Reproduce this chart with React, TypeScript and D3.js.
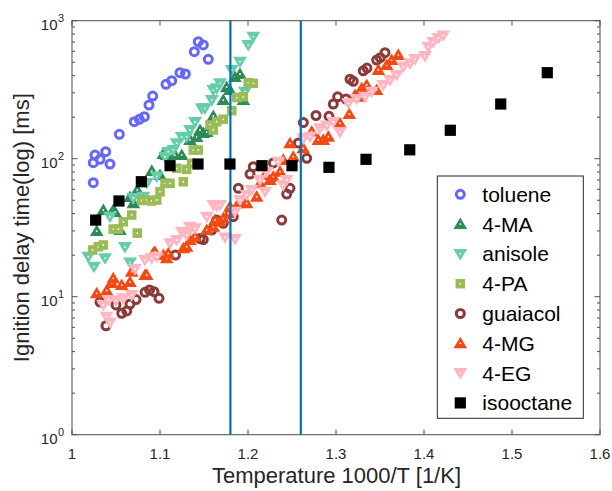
import React from "react";
import * as d3 from "d3";

// ---- data: [1000/T (1/K), ignition delay (ms)] ----
const toluene: [number, number][] = [
  [1.0242, 67.0], [1.0242, 93.5], [1.0261, 106.3], [1.0318, 99], [1.0383, 112.4],
  [1.0432, 91.5], [1.0538, 150.3], [1.0708, 185.4], [1.0765, 193], [1.0822, 201.5],
  [1.0875, 245], [1.0917, 284.6], [1.1068, 346], [1.1133, 367.5], [1.1227, 420],
  [1.1288, 411], [1.139, 596], [1.1435, 704], [1.1492, 667], [1.1549, 525],
];
const ma4: [number, number][] = [
  [1.0281, 29.9], [1.0356, 42.5], [1.0469, 42.5], [1.0489, 41.1], [1.0545, 30.4],
  [1.0659, 52.7], [1.0697, 47.6], [1.0742, 59.3], [1.0906, 81.5], [1.1, 76.2],
  [1.1038, 108], [1.1076, 106.3], [1.117, 106.3], [1.1247, 106.3], [1.1341, 136.7],
  [1.1417, 143.6], [1.1455, 161.4], [1.1492, 153.5], [1.1531, 156], [1.1606, 203.9],
  [1.1719, 266], [1.1758, 330], [1.1795, 314], [1.1852, 391], [1.1909, 411], [1.1947, 266],
];
const anisole: [number, number][] = [
  [1.0185, 19.5], [1.025, 16.5], [1.0375, 19.0], [1.0432, 38.0], [1.0602, 22.9],
  [1.0659, 17.7], [1.0697, 51.9], [1.081, 53.1], [1.0849, 66.7], [1.0963, 74.3],
  [1.1057, 103.3], [1.1094, 112.4], [1.1151, 115.6], [1.119, 129.4], [1.1247, 143.6],
  [1.1303, 144.3], [1.1341, 161.4], [1.1398, 184.5], [1.1474, 231.7], [1.1511, 231.7],
  [1.1588, 266], [1.1606, 314], [1.1644, 323.6], [1.1682, 351.6], [1.1815, 439.6],
  [1.1909, 504.7], [1.1966, 305.5], [1.2003, 666.8], [1.206, 765.6],
];
const pa4: [number, number][] = [
  [1.0235, 21.8], [1.0299, 23.0], [1.0356, 23.7], [1.0469, 30.9], [1.0526, 30.9],
  [1.0583, 34.9], [1.0678, 39.1], [1.0742, 28.9], [1.0792, 49.8], [1.0849, 50.2],
  [1.0906, 49.4], [1.0963, 50.2], [1.1, 57.6], [1.1057, 66.3], [1.1114, 66.3],
  [1.119, 85.2], [1.1265, 68.1], [1.1303, 83.7], [1.136, 92.6], [1.1378, 115.6],
  [1.1435, 115.6], [1.1568, 175.5], [1.1606, 161.4], [1.1644, 185.4], [1.1719, 193],
  [1.1815, 222.8], [1.1872, 277.4], [1.1947, 281.4], [1.2003, 355.6], [1.206, 351.6],
];
const guaiacol: [number, number][] = [
  [1.0318, 9.15], [1.0386, 6.16], [1.05, 8.71], [1.0565, 7.58], [1.0622, 7.88],
  [1.0659, 8.85], [1.0727, 9.54], [1.083, 10.76], [1.0881, 11.19], [1.0932, 10.87],
  [1.0989, 9.73], [1.1176, 20.05], [1.1455, 26.4], [1.1492, 25.96], [1.1588, 30.4],
  [1.1644, 35.9], [1.1719, 34.0], [1.1833, 38.0], [1.189, 61.0], [1.2023, 77.4],
  [1.206, 87.5], [1.2288, 93.1], [1.2383, 35.9], [1.244, 55.5], [1.2477, 61.0],
  [1.2572, 130], [1.2629, 182.8], [1.2667, 100.7], [1.2773, 205.6], [1.292, 202.8],
  [1.2969, 249], [1.3019, 281], [1.3114, 270.8], [1.3159, 376.6], [1.3197, 363.9],
  [1.331, 433.5], [1.3352, 453.9], [1.3462, 518.8], [1.3503, 539.6], [1.3557, 586.3],
];
const mg4: [number, number][] = [
  [1.0281, 10.58], [1.0394, 11.09], [1.0451, 12.56], [1.0469, 13.59], [1.0565, 12.16],
  [1.0659, 12.78], [1.0678, 15.18], [1.083, 14.36], [1.0849, 14.36], [1.0924, 20.7],
  [1.0943, 21.1], [1.1038, 20.05], [1.1076, 18.97], [1.1094, 20.6], [1.1265, 22.4],
  [1.1303, 23.0], [1.1341, 25.76], [1.1398, 27.2], [1.1531, 30.4], [1.1606, 32.1],
  [1.1625, 35.9], [1.1682, 34.9], [1.1719, 37.0], [1.1776, 40.2], [1.1795, 44.9],
  [1.189, 47.5], [1.1947, 50.2], [1.1985, 47.5], [1.2099, 53.1], [1.2136, 66.3],
  [1.2193, 76.2], [1.225, 70.1], [1.2288, 74.1], [1.2364, 80.5], [1.2401, 97.9],
  [1.2477, 129.4], [1.2515, 103.3], [1.2628, 118.9], [1.2724, 157.4], [1.2799, 136.7],
  [1.2856, 136.7], [1.2913, 144.3], [1.3045, 180.6], [1.3151, 210.9], [1.3216, 289.5],
  [1.3273, 281.4], [1.3292, 323.6], [1.3349, 342], [1.3462, 314], [1.3481, 439.6],
  [1.3576, 477.6], [1.3633, 518.8], [1.3708, 564.5],
];
const eg4: [number, number][] = [
  [1.0356, 8.71], [1.0394, 7.16], [1.0413, 9.46], [1.0432, 6.5], [1.05, 9.38],
  [1.0583, 9.73], [1.0678, 10.28], [1.0716, 15.88], [1.083, 18.45], [1.0906, 18.97],
  [1.0963, 19.5], [1.1114, 24.4], [1.119, 25.76], [1.1247, 29.6], [1.1303, 28.0],
  [1.1341, 32.1], [1.1398, 31.3], [1.1531, 38.0], [1.1606, 46.2], [1.1644, 45.4],
  [1.1682, 46.2], [1.1739, 26.85], [1.1852, 26.2], [1.1852, 41.3], [1.1909, 50.2],
  [1.1985, 54.6], [1.2042, 59.3], [1.2136, 70.1], [1.2193, 57.6], [1.2213, 80.5],
  [1.2344, 95.1], [1.2401, 64.4], [1.244, 70.1], [1.2628, 140.6], [1.2705, 144.3],
  [1.2818, 166], [1.2894, 174.1], [1.2969, 184.5], [1.3045, 156], [1.314, 252],
  [1.3235, 270.8], [1.333, 281.4], [1.3406, 306], [1.3538, 342], [1.3614, 371.5],
  [1.369, 404.5], [1.3765, 464], [1.3841, 491], [1.3898, 527], [1.4011, 554.6],
  [1.4049, 648.6], [1.4106, 701], [1.4163, 749.6], [1.4219, 781.7],
];
const isooctane: [number, number][] = [
  [1.0269, 35.9], [1.0534, 49.4], [1.0788, 68.1], [1.1114, 89], [1.1432, 91.5],
  [1.1795, 91.5], [1.2159, 89], [1.25, 89], [1.292, 86.6], [1.3341, 99],
  [1.3838, 116], [1.4299, 160.7], [1.4872, 249], [1.5401, 420],
];
const vLines = [1.18, 1.26];
const xTicks = [1, 1.1, 1.2, 1.3, 1.4, 1.5, 1.6];
const yTickExps = [0, 1, 2, 3];

type Shape = "circle" | "up" | "down" | "square" | "bigsquare";
const series: { name: string; data: [number, number][]; shape: Shape; color: string }[] = [
  { name: "toluene", data: toluene, shape: "circle", color: "#6666ff" },
  { name: "4-MA", data: ma4, shape: "up", color: "#2e8b57" },
  { name: "anisole", data: anisole, shape: "down", color: "#66cdaa" },
  { name: "4-PA", data: pa4, shape: "square", color: "#9bbb59" },
  { name: "guaiacol", data: guaiacol, shape: "circle", color: "#8b3a3a" },
  { name: "4-MG", data: mg4, shape: "up", color: "#f24a12" },
  { name: "4-EG", data: eg4, shape: "down", color: "#ffb6c1" },
  { name: "isooctane", data: isooctane, shape: "bigsquare", color: "#000000" },
];

const X0 = 72, X1 = 600, Y0 = 434.7, Y1 = 20.7;
const x = d3.scaleLinear().domain([1, 1.6]).range([X0, X1]);
const y = d3.scaleLog().domain([1, 1000]).range([Y0, Y1]);

const FONT = "'Liberation Sans', Arial, Helvetica, sans-serif";

function Marker({ shape, color, cx, cy }: { shape: Shape; color: string; cx: number; cy: number }) {
  const dot = <circle cx={cx} cy={cy} r={0.9} fill="#fff" />;
  if (shape === "circle")
    return <circle cx={cx} cy={cy} r={4} fill="none" stroke={color} strokeWidth={3} />;
  if (shape === "up")
    return (
      <g>
        <path d={`M${cx},${cy - 6.6}L${cx + 6.8},${cy + 5}L${cx - 6.8},${cy + 5}Z`} fill={color} />
        {dot}
      </g>
    );
  if (shape === "down")
    return (
      <g>
        <path d={`M${cx},${cy + 6.6}L${cx + 7},${cy - 5}L${cx - 7},${cy - 5}Z`} fill={color} />
        {dot}
      </g>
    );
  if (shape === "square")
    return (
      <g>
        <rect x={cx - 4.8} y={cy - 4.8} width={9.6} height={9.6} fill={color} />
        {dot}
      </g>
    );
  return <rect x={cx - 5.6} y={cy - 5.6} width={11.2} height={11.2} fill={color} />;
}

export default function App() {
  const minor: number[] = [];
  for (let e = 0; e < 3; e++) for (let m = 2; m <= 9; m++) minor.push(m * Math.pow(10, e));
  const axisColor = "#4d4d4d";
  return (
    <svg width={612} height={491} style={{ position: "absolute", left: 0, top: 0, background: "#fff" }} fontFamily={FONT}>
      <rect x={0} y={0} width={612} height={491} fill="#fff" />
      {series.slice(0, 7).map((s) => (
        <g key={s.name}>
          {s.data.map((d, i) => (
            <Marker key={i} shape={s.shape} color={s.color} cx={x(d[0])} cy={y(d[1])} />
          ))}
        </g>
      ))}
      {vLines.map((v) => (
        <line key={v} x1={x(v)} x2={x(v)} y1={Y1} y2={Y0} stroke="#0072bd" strokeWidth={2.2} />
      ))}
      {series.slice(7).map((s) => (
        <g key={s.name}>
          {s.data.map((d, i) => (
            <Marker key={i} shape={s.shape} color={s.color} cx={x(d[0])} cy={y(d[1])} />
          ))}
        </g>
      ))}
      <rect x={X0} y={Y1} width={X1 - X0} height={Y0 - Y1} fill="none" stroke={axisColor} strokeWidth={1} />
      {xTicks.map((t) => (
        <g key={t}>
          <line x1={x(t)} x2={x(t)} y1={Y0} y2={Y0 - 5} stroke={axisColor} />
          <line x1={x(t)} x2={x(t)} y1={Y1} y2={Y1 + 5} stroke={axisColor} />
          <text x={x(t)} y={459} textAnchor="middle" fontSize={15} fill="#262626">
            {String(t)}
          </text>
        </g>
      ))}
      {yTickExps.map((e) => (
        <g key={e}>
          <line x1={X0} x2={X0 + 5.5} y1={y(Math.pow(10, e))} y2={y(Math.pow(10, e))} stroke={axisColor} />
          <line x1={X1} x2={X1 - 5.5} y1={y(Math.pow(10, e))} y2={y(Math.pow(10, e))} stroke={axisColor} />
          <text x={57.5} y={y(Math.pow(10, e)) + 9} textAnchor="end" fontSize={15} fill="#262626">
            10
          </text>
          <text x={58} y={y(Math.pow(10, e)) + 1} textAnchor="start" fontSize={11} fill="#262626">
            {e}
          </text>
        </g>
      ))}
      {minor.map((m) => (
        <g key={m}>
          <line x1={X0} x2={X0 + 3} y1={y(m)} y2={y(m)} stroke={axisColor} />
          <line x1={X1} x2={X1 - 3} y1={y(m)} y2={y(m)} stroke={axisColor} />
        </g>
      ))}
      <text x={336.5} y={483} textAnchor="middle" fontSize={22} fill="#262626">
        Temperature 1000/T [1/K]
      </text>
      <text transform={`translate(29,${(Y0 + Y1) / 2}) rotate(-90)`} textAnchor="middle" fontSize={22} fill="#262626">
        Ignition delay time(log) [ms]
      </text>
      <rect x={437.3} y={176} width={146} height={242.3} fill="#fff" stroke="#262626" strokeWidth={1} />
      {series.map((s, i) => {
        const cy = 194.3 + i * 29.8;
        return (
          <g key={s.name}>
            <Marker shape={s.shape} color={s.color} cx={460.3} cy={cy} />
            <text x={482.3} y={cy + 7.5} fontSize={21} fill="#000">
              {s.name}
            </text>
          </g>
        );
      })}
    </svg>
  );
}
